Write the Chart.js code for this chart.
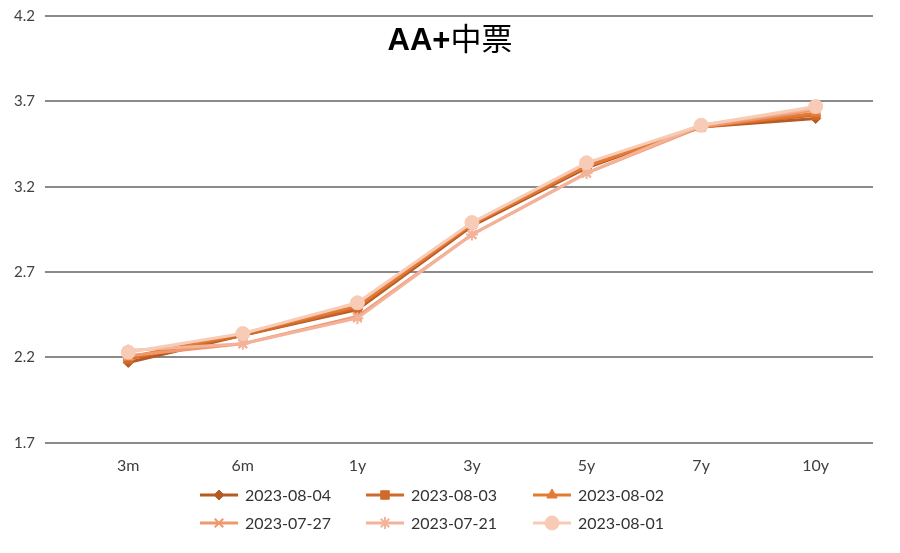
<!DOCTYPE html>
<html>
<head>
<meta charset="utf-8">
<script src="https://cdn.jsdelivr.net/npm/chart.js@4.4.0/dist/chart.umd.min.js"></script>
<style>
    html, body { margin: 0; padding: 0; background: #fff; }
    #wrap { width: 900px; height: 553px; }
</style>
</head>
<body>
<div id="wrap"><canvas id="Chart_AA"></canvas></div>
<script>
// data
var categories = ["3m", "6m", "1y", "3y", "5y", "7y", "10y"];
var seriesNames = ["2023-08-04", "2023-08-03", "2023-08-02", "2023-07-27", "2023-07-21", "2023-08-01"];
var s0804 = [2.17, 2.33, 2.48, 2.97, 3.31, 3.55, 3.60];
var s0803 = [2.19, 2.33, 2.49, 2.98, 3.32, 3.55, 3.62];
var s0802 = [2.20, 2.34, 2.50, 2.98, 3.32, 3.55, 3.63];
var s0727 = [2.21, 2.28, 2.44, 2.92, 3.28, 3.55, 3.65];
var s0721 = [2.24, 2.28, 2.43, 2.92, 3.28, 3.56, 3.66];
var s0801 = [2.23, 2.34, 2.52, 2.99, 3.34, 3.56, 3.67];
var yTicks = [1.7, 2.2, 2.7, 3.2, 3.7, 4.2];
var titleLatin = "AA+";
var titleCJK = "中票";

var seriesValues = [s0804, s0803, s0802, s0727, s0721, s0801];
var lineColors = ["#B85A24", "#CE6A2C", "#E47B35", "#F0986C", "#F3B39A", "#F7CBB6"];
var markers = ["rectRot", "rect", "triangle", "crossRot", "star", "circle"];
var markerSizes = [5, 6, 6, 6, 6, 7];

var DSets = [];
for (var i = 0; i < seriesNames.length; i++) {
    DSets.push({
        label: seriesNames[i],
        data: seriesValues[i],
        borderColor: lineColors[i],
        backgroundColor: lineColors[i],
        pointBackgroundColor: lineColors[i],
        pointBorderColor: lineColors[i],
        pointBorderWidth: (markers[i] == "crossRot" || markers[i] == "star") ? 2 : 1,
        pointStyle: markers[i],
        pointRadius: markerSizes[i],
        borderWidth: 3,
        tension: 0,
        order: seriesNames.length - i   // last series on top, like the original
    });
}

var FONT = "Lato, 'Liberation Sans', sans-serif";

// title + two-row legend with line+marker samples
var extrasPlugin = {
    id: "extras",
    afterDraw: function (chart) {
        var ctx = chart.ctx;
        ctx.save();
        ctx.fillStyle = "#000";
        ctx.textAlign = "left";
        ctx.textBaseline = "alphabetic";
        var f1 = "bold 31px 'Liberation Sans', sans-serif";
        var f2 = "31px 'Noto Sans CJK SC', sans-serif";
        ctx.font = f1; var w1 = ctx.measureText(titleLatin).width;
        ctx.font = f2; var w2 = ctx.measureText(titleCJK).width;
        var tx = 450 - (w1 + w2) / 2;
        ctx.font = f1; ctx.fillText(titleLatin, tx, 50);
        ctx.font = f2; ctx.fillText(titleCJK, tx + w1, 50);

        var colX = [200, 366, 533];
        var rowY = [495, 523];
        ctx.font = "16px " + FONT;
        ctx.textBaseline = "middle";
        var ds = chart.data.datasets;
        for (var i = 0; i < ds.length; i++) {
            var x = colX[i % 3], y = rowY[Math.floor(i / 3)];
            ctx.strokeStyle = ds[i].borderColor;
            ctx.lineWidth = 3;
            ctx.beginPath(); ctx.moveTo(x, y); ctx.lineTo(x + 38, y); ctx.stroke();
            ctx.fillStyle = ds[i].pointBackgroundColor;
            ctx.strokeStyle = ds[i].pointBorderColor;
            ctx.lineWidth = ds[i].pointBorderWidth;
            Chart.helpers.drawPoint(ctx, { pointStyle: ds[i].pointStyle, radius: ds[i].pointRadius, rotation: 0, borderWidth: ds[i].pointBorderWidth }, x + 19, y);
            ctx.fillStyle = "#333";
            ctx.fillText(ds[i].label, x + 45, y + 1);
        }
        ctx.restore();
    }
};

var ctx = document.getElementById("Chart_AA");
var chart = new Chart(ctx, {
    type: "line",
    data: { labels: categories, datasets: DSets },
    plugins: [extrasPlugin],
    options: {
        responsive: true,
        maintainAspectRatio: false,
        animation: false,
        layout: { padding: { top: 0, left: 4, right: 27, bottom: 65 } },
        plugins: { legend: { display: false }, tooltip: { enabled: false }, title: { display: false } },
        scales: {
            x: {
                offset: true,
                grid: { display: false, drawTicks: false },
                border: { display: false },
                ticks: { color: "#404040", font: { family: FONT, size: 16 }, padding: 13 }
            },
            y: {
                min: 1.7,
                max: 4.2,
                afterBuildTicks: function (s) { s.ticks = yTicks.map(function (v) { return { value: v }; }); },
                grid: { color: "#8A8A8A", lineWidth: 2, drawTicks: true, tickLength: 26, tickColor: "#8A8A8A" },
                border: { display: false },
                ticks: {
                    color: "#404040", font: { family: FONT, size: 15, lineHeight: 0.8 }, padding: 10,
                    callback: function (v) { return Number(v).toFixed(1); }
                }
            }
        }
    }
});
</script>
</body>
</html>
